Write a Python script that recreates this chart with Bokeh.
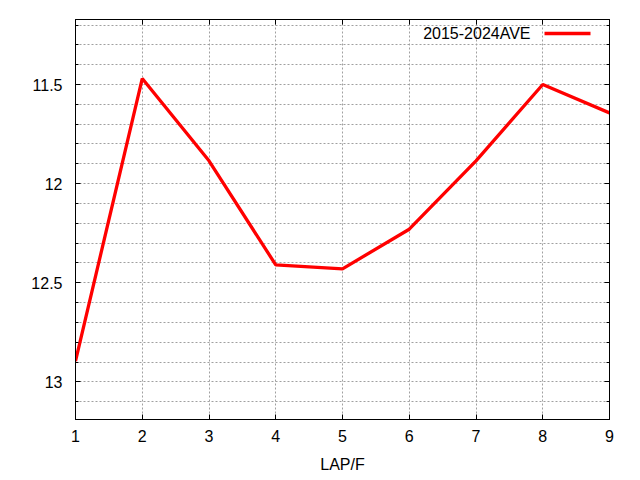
from bokeh.plotting import figure
from bokeh.models import (Range1d, FixedTicker, LinearAxis, CustomJSTickFormatter,
                          Label, BoxAnnotation)
from bokeh.embed import file_html
from bokeh.resources import INLINE

laps = [1, 2, 3, 4, 5, 6, 7, 8, 9]
ave_2015_2024 = [12.895, 11.47, 11.885, 12.41, 12.43, 12.23, 11.885, 11.50, 11.643]
x_ticks = [1, 2, 3, 4, 5, 6, 7, 8, 9]
y_ticks = [11.5, 12.0, 12.5, 13.0]
y_minor = [11.2, 11.3, 11.4, 11.6, 11.7, 11.8, 11.9, 12.1, 12.2, 12.3, 12.4,
           12.6, 12.7, 12.8, 12.9, 13.1]
series_label = "2015-2024AVE"
x_title = "LAP/F"

FONT = "Liberation Sans"
FS = "16px"
GRID = "#a0a0a0"

p = figure(width=632, height=472, output_backend="svg", toolbar_location=None,
           x_range=Range1d(1, 9), y_range=Range1d(13.19, 11.172),
           min_border_left=75, min_border_right=23, min_border_top=19,
           min_border_bottom=53)
p.frame_width = 534
p.frame_height = 400
p.outline_line_color = "black"
p.outline_line_width = 1
p.background_fill_color = "white"
p.border_fill_color = "white"

xt = FixedTicker(ticks=x_ticks, minor_ticks=[])
yt = FixedTicker(ticks=y_ticks, minor_ticks=y_minor)

for ax in p.xaxis:
    ax.ticker = xt
for ax in p.yaxis:
    ax.ticker = yt

def style_axis(ax):
    ax.axis_line_color = "black"
    ax.major_tick_line_color = "black"
    ax.minor_tick_line_color = "black"
    ax.major_tick_in = 5
    ax.major_tick_out = 0
    ax.minor_tick_in = 3
    ax.minor_tick_out = 0
    ax.major_label_text_font = FONT
    ax.major_label_text_font_size = FS
    ax.major_label_text_color = "black"

style_axis(p.xaxis[0])
style_axis(p.yaxis[0])
p.xaxis[0].major_label_standoff = 10
p.yaxis[0].major_label_standoff = 13
p.xaxis[0].axis_label = x_title
p.xaxis[0].axis_label_text_font = FONT
p.xaxis[0].axis_label_text_font_size = FS
p.xaxis[0].axis_label_text_font_style = "normal"
p.xaxis[0].axis_label_text_color = "black"
p.xaxis[0].axis_label_standoff = 11

blank = CustomJSTickFormatter(code="return ''")
top_ax = LinearAxis(ticker=xt, formatter=blank)
right_ax = LinearAxis(ticker=yt, formatter=blank)
style_axis(top_ax)
style_axis(right_ax)
top_ax.major_label_text_font_size = "0px"
right_ax.major_label_text_font_size = "0px"
top_ax.major_label_standoff = 0
right_ax.major_label_standoff = 0
p.add_layout(top_ax, "above")
p.add_layout(right_ax, "right")

p.xgrid.ticker = xt
p.ygrid.ticker = yt
p.xgrid.grid_line_color = GRID
p.xgrid.grid_line_dash = "2 2"
p.ygrid.grid_line_color = GRID
p.ygrid.grid_line_dash = "2 2"
p.ygrid.minor_grid_line_color = GRID
p.ygrid.minor_grid_line_dash = "2 2"

p.line(laps, ave_2015_2024, line_color="#ff0000", line_width=3.3)

# gnuplot-style key: text then sample line
p.add_layout(Label(x=455, y=386, x_units="screen", y_units="screen",
                   text=series_label, text_align="right", text_baseline="middle",
                   text_font=FONT, text_font_size=FS, text_color="black"))
p.add_layout(BoxAnnotation(left=469, right=515, bottom=384.3, top=387.7,
                           left_units="screen", right_units="screen",
                           bottom_units="screen", top_units="screen",
                           fill_color="#ff0000", fill_alpha=1, line_color=None))

open("out.html", "w").write(file_html(p, INLINE))
